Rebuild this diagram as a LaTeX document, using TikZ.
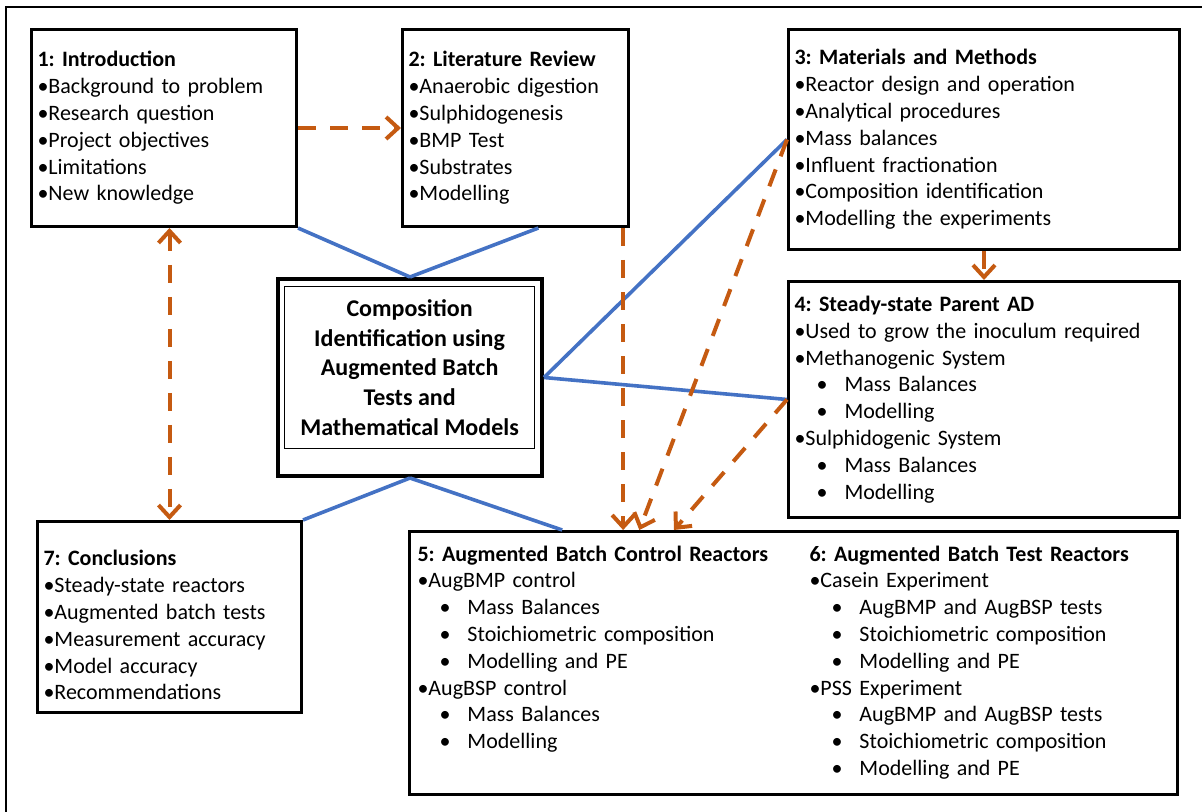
\documentclass[tikz,border=0pt]{standalone}
\usepackage{fontspec}
\setmainfont{Carlito}
\usepackage{tikz}
\usetikzlibrary{arrows.meta,calc}
\frenchspacing

\definecolor{arrorange}{RGB}{197,90,17}
\definecolor{linkblue}{RGB}{68,114,196}
\newcommand{\subitm}[1]{\hspace*{11pt}\makebox[14pt][l]{•}#1}

\begin{document}
\begin{tikzpicture}[
  x=0.5pt, y=-0.5pt,
  >={Straight Barb[length=6pt,width=11pt]},
  box/.style={draw, line width=1.5pt, anchor=north west, align=left, inner xsep=3pt, font=\fontsize{11}{13.4}\selectfont},
  arr/.style={->, draw=arrorange, line width=2pt, dash pattern=on 9pt off 7pt},
  link/.style={draw=linkblue, line width=1.8pt}
]
\useasboundingbox (0,0) rectangle (1202,812);
\draw[line width=0.8pt] (6,812) -- (6,7) -- (1202,7);

\node[box, minimum width=132.5pt, minimum height=98.5pt, text width=126.5pt] (b1) at (30,28)
  {\textbf{1: Introduction}\\ •Background to problem\\ •Research question\\ •Project objectives\\ •Limitations\\ •New knowledge};
\node[box, minimum width=113pt, minimum height=98.5pt, text width=107pt] (b2) at (401,28)
  {\textbf{2: Literature Review}\\ •Anaerobic digestion\\ •Sulphidogenesis\\ •BMP Test\\ •Substrates\\ •Modelling};
\node[box, minimum width=195.5pt, minimum height=110pt, text width=189.5pt] (b3) at (787,28)
  {\textbf{3: Materials and Methods}\\ •Reactor design and operation\\ •Analytical procedures\\ •Mass balances\\ •Influent fractionation\\ •Composition identification\\ •Modelling the experiments};
\node[box, minimum width=195.5pt, minimum height=118pt, text width=189.5pt] (b4) at (787,280)
  {\textbf{4: Steady-state Parent AD}\\ •Used to grow the inoculum required\\ •Methanogenic System\\ \subitm{Mass Balances}\\ \subitm{Modelling}\\ •Sulphidogenic System\\ \subitm{Mass Balances}\\ \subitm{Modelling}};

\node[draw, line width=2pt, anchor=north west, minimum width=132pt, minimum height=98.5pt] (cm) at (276,277) {};
\node[draw, line width=0.6pt, anchor=north west, minimum width=125pt, minimum height=81pt, align=center,
  font=\fontsize{12}{14.9}\selectfont\bfseries] (ctitle) at (284,286)
  {Composition\\ Identification using\\ Augmented Batch\\ Tests and\\ Mathematical Models};

\node[box, minimum width=132pt, minimum height=95.5pt, text width=126pt] (b7) at (36,520)
  {\rule{0pt}{16pt}\textbf{7: Conclusions}\\ •Steady-state reactors\\ •Augmented batch tests\\ •Measurement accuracy\\ •Model accuracy\\ •Recommendations};
\node[box, inner xsep=4pt, minimum width=384pt, minimum height=131.5pt, text width=376pt] (b56) at (408,530)
  {\makebox[196pt][l]{\begin{tabular}[t]{@{}l@{}}
    \textbf{5: Augmented Batch Control Reactors}\\ •AugBMP control\\ \subitm{Mass Balances}\\ \subitm{Stoichiometric composition}\\ \subitm{Modelling and PE}\\ •AugBSP control\\ \subitm{Mass Balances}\\ \subitm{Modelling}
  \end{tabular}}\begin{tabular}[t]{@{}l@{}}
    \textbf{6: Augmented Batch Test Reactors}\\ •Casein Experiment\\ \subitm{AugBMP and AugBSP tests}\\ \subitm{Stoichiometric composition}\\ \subitm{Modelling and PE}\\ •PSS Experiment\\ \subitm{AugBMP and AugBSP tests}\\ \subitm{Stoichiometric composition}\\ \subitm{Modelling and PE}
  \end{tabular}};

\draw[link] (b1.south east) -- (cm.north);
\draw[link] ($(b2.south west)!0.6!(b2.south east)$) -- (cm.north);
\draw[link] (cm.east) -- (b3.west);
\draw[link] (cm.east) -- (b4.west);
\draw[link] (cm.south) -- (b7.north east);
\draw[link] (cm.south) -- ($(b56.north west)!0.2!(b56.north east)$);

\draw[arr] (b1.east) -- (b2.west);
\draw[arr, <->] (b1.south -| b7.north) -- (b7.north);
\draw[arr] ($(b2.south west)!0.97!(b2.south east)$) coordinate (d2) -- (d2 |- b56.north);
\draw[arr] (b3.south) -- (b4.north);
\draw[arr] (b3.west) -- ($(b56.north west)!0.3!(b56.north east)$);
\draw[arr] (b4.west) -- ($(b56.north west)!0.345!(b56.north east)$);
\end{tikzpicture}
\end{document}
